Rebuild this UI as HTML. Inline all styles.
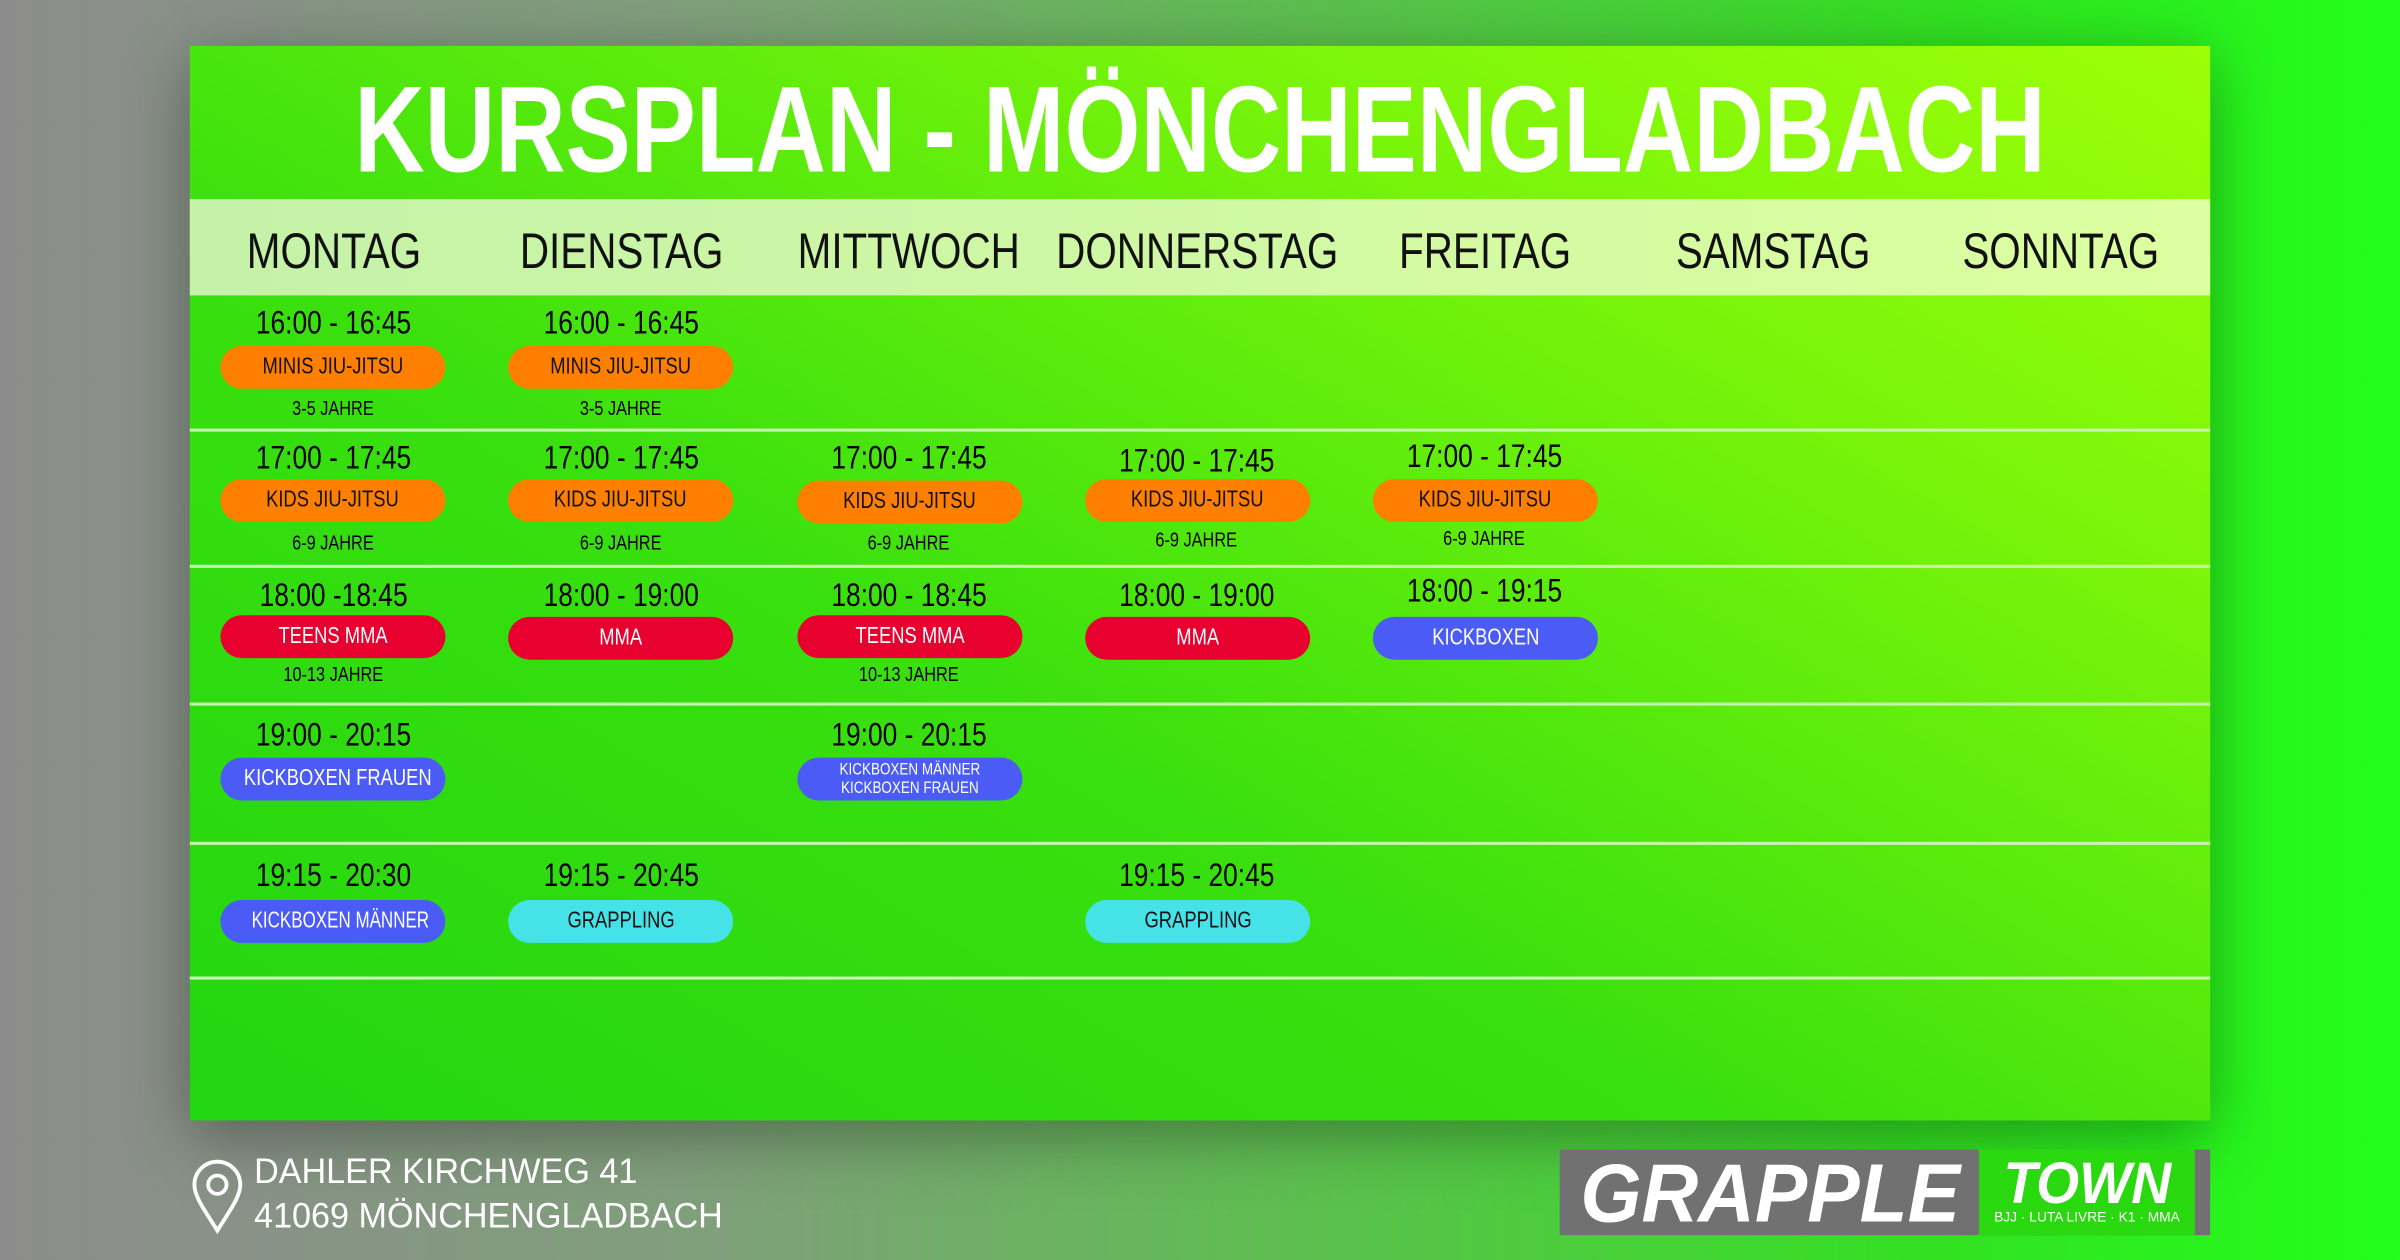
<!DOCTYPE html>
<html><head><meta charset="utf-8"><style>
html,body{margin:0;padding:0;width:2400px;height:1260px;overflow:hidden}
#bg{position:absolute;left:0;top:0;width:2400px;height:1260px;background:linear-gradient(90deg,#8c8c8c 0%,#7fa07a 30%,#5cc04e 55%,#33e022 80%,#22ff1a 100%)}
#w{position:absolute;left:0;top:0;width:1568px;height:823px;transform:scale(1.5306);transform-origin:0 0;font-family:"Liberation Sans",sans-serif}
.panel{position:absolute;left:124px;top:30px;width:1320px;height:702px;background:linear-gradient(30deg,#22d610 0%,#3ae00e 40%,#7af50a 75%,#9cff08 100%);box-shadow:0 10px 40px rgba(0,0,0,.35)}
.title{position:absolute;left:784px;top:40px;color:#fff;font-weight:bold;font-size:80px;line-height:90px;white-space:nowrap;transform:translateX(-50%) scaleX(.797)}
.hdr{position:absolute;left:124px;top:130px;width:1320px;height:63px;background:linear-gradient(90deg,#c4f2a8,#dcffa0)}
.c{position:absolute;width:240px;text-align:center;white-space:nowrap}
.c span{display:inline-block;transform:scaleX(.82)}
.day{font-size:33px;color:#111;top:144px;line-height:40px}
.day span{transform:scaleX(.8)}
.t{font-size:21px;color:#000;line-height:24px}
.a{font-size:13px;color:#000;line-height:16px}
.p{position:absolute;width:147px;height:28px;border-radius:14px;text-align:center;font-size:15px;line-height:28px;white-space:nowrap}
.p span{display:inline-block;transform:scaleX(.8)}
.o{background:#ff7f00;color:#111}.r{background:#e8002e;color:#fff}.b{background:#4a5cf5;color:#fff}.cy{background:#45e3e8;color:#111}
.ln{position:absolute;left:124px;width:1320px;height:2px;background:#c8f5b0}
.ft{position:absolute;left:166px;color:#fff;font-size:23px;line-height:29px;white-space:nowrap}
.ft span{display:inline-block;transform:scaleX(.97);transform-origin:0 50%}
</style></head><body><div id="bg"></div><div id="w">
<div class="panel"></div>
<div class="title">KURSPLAN - MÖNCHENGLADBACH</div>
<div class="hdr"></div>
<div class="c day" style="left:98px"><span>MONTAG</span></div>
<div class="c day" style="left:286px"><span>DIENSTAG</span></div>
<div class="c day" style="left:474px"><span>MITTWOCH</span></div>
<div class="c day" style="left:662px"><span>DONNERSTAG</span></div>
<div class="c day" style="left:850px"><span>FREITAG</span></div>
<div class="c day" style="left:1038px"><span>SAMSTAG</span></div>
<div class="c day" style="left:1226px"><span>SONNTAG</span></div>
<div class="ln" style="top:280px"></div><div class="ln" style="top:369px"></div><div class="ln" style="top:459px"></div><div class="ln" style="top:550px"></div><div class="ln" style="top:638px"></div>

<div class="c t" style="left:98px;top:200px"><span>16:00 - 16:45</span></div>
<div class="p o" style="left:144px;top:226px"><span>MINIS JIU-JITSU</span></div>
<div class="c a" style="left:98px;top:259px"><span>3-5 JAHRE</span></div>
<div class="c t" style="left:286px;top:200px"><span>16:00 - 16:45</span></div>
<div class="p o" style="left:332px;top:226px"><span>MINIS JIU-JITSU</span></div>
<div class="c a" style="left:286px;top:259px"><span>3-5 JAHRE</span></div>

<div class="c t" style="left:98px;top:288px"><span>17:00 - 17:45</span></div>
<div class="p o" style="left:144px;top:313px"><span>KIDS JIU-JITSU</span></div>
<div class="c a" style="left:98px;top:347px"><span>6-9 JAHRE</span></div>
<div class="c t" style="left:286px;top:288px"><span>17:00 - 17:45</span></div>
<div class="p o" style="left:332px;top:313px"><span>KIDS JIU-JITSU</span></div>
<div class="c a" style="left:286px;top:347px"><span>6-9 JAHRE</span></div>
<div class="c t" style="left:474px;top:288px"><span>17:00 - 17:45</span></div>
<div class="p o" style="left:521px;top:314px"><span>KIDS JIU-JITSU</span></div>
<div class="c a" style="left:474px;top:347px"><span>6-9 JAHRE</span></div>
<div class="c t" style="left:662px;top:290px"><span>17:00 - 17:45</span></div>
<div class="p o" style="left:709px;top:313px"><span>KIDS JIU-JITSU</span></div>
<div class="c a" style="left:662px;top:345px"><span>6-9 JAHRE</span></div>
<div class="c t" style="left:850px;top:287px"><span>17:00 - 17:45</span></div>
<div class="p o" style="left:897px;top:313px"><span>KIDS JIU-JITSU</span></div>
<div class="c a" style="left:850px;top:344px"><span>6-9 JAHRE</span></div>

<div class="c t" style="left:98px;top:378px"><span>18:00 -18:45</span></div>
<div class="p r" style="left:144px;top:402px"><span>TEENS MMA</span></div>
<div class="c a" style="left:98px;top:433px"><span>10-13 JAHRE</span></div>
<div class="c t" style="left:286px;top:378px"><span>18:00 - 19:00</span></div>
<div class="p r" style="left:332px;top:403px"><span>MMA</span></div>
<div class="c t" style="left:474px;top:378px"><span>18:00 - 18:45</span></div>
<div class="p r" style="left:521px;top:402px"><span>TEENS MMA</span></div>
<div class="c a" style="left:474px;top:433px"><span>10-13 JAHRE</span></div>
<div class="c t" style="left:662px;top:378px"><span>18:00 - 19:00</span></div>
<div class="p r" style="left:709px;top:403px"><span>MMA</span></div>
<div class="c t" style="left:850px;top:375px"><span>18:00 - 19:15</span></div>
<div class="p b" style="left:897px;top:403px"><span>KICKBOXEN</span></div>

<div class="c t" style="left:98px;top:469px"><span>19:00 - 20:15</span></div>
<div class="p b" style="left:144px;top:495px"><span>KICKBOXEN FRAUEN</span></div>
<div class="c t" style="left:474px;top:469px"><span>19:00 - 20:15</span></div>
<div class="p b" style="left:521px;top:495px;font-size:11px;line-height:12px;padding-top:2px;height:26px"><span>KICKBOXEN MÄNNER<br>KICKBOXEN FRAUEN</span></div>

<div class="c t" style="left:98px;top:561px"><span>19:15 - 20:30</span></div>
<div class="p b" style="left:144px;top:588px"><span style="transform:scaleX(.74)">KICKBOXEN MÄNNER</span></div>
<div class="c t" style="left:286px;top:561px"><span>19:15 - 20:45</span></div>
<div class="p cy" style="left:332px;top:588px"><span>GRAPPLING</span></div>
<div class="c t" style="left:662px;top:561px"><span>19:15 - 20:45</span></div>
<div class="p cy" style="left:709px;top:588px"><span>GRAPPLING</span></div>

<svg style="position:absolute;left:124px;top:757px" width="36" height="50" viewBox="0 0 36 50"><path d="M18 47 C10 34 3 25 3 17 A15 15 0 0 1 33 17 C33 25 26 34 18 47 Z" fill="none" stroke="#fff" stroke-width="2.5"/><circle cx="18" cy="17" r="6" fill="none" stroke="#fff" stroke-width="2.5"/></svg>
<div class="ft" style="top:751px"><span>DAHLER KIRCHWEG 41</span></div>
<div class="ft" style="top:780px"><span>41069 MÖNCHENGLADBACH</span></div>
<div style="position:absolute;left:1019px;top:751px;width:425px;height:56px;background:#717171"></div>
<div style="position:absolute;left:1293px;top:751px;width:141px;height:56px;background:#2ad80f"></div>
<div style="position:absolute;left:1024px;top:752px;width:265px;text-align:center;color:#fff;font-weight:bold;font-style:italic;font-size:54px;line-height:56px;white-space:nowrap"><span style="display:inline-block;transform:scaleX(.95)">GRAPPLE</span></div>
<div style="position:absolute;left:1296px;top:752px;width:135px;text-align:center;color:#fff;font-weight:bold;font-style:italic;font-size:38px;line-height:44px;white-space:nowrap"><span style="display:inline-block;transform:scaleX(.95)">TOWN</span></div>
<div style="position:absolute;left:1296px;top:789px;width:135px;text-align:center;color:#fff;font-size:9px;line-height:12px;white-space:nowrap">BJJ · LUTA LIVRE · K1 · MMA</div>
</div></body></html>
